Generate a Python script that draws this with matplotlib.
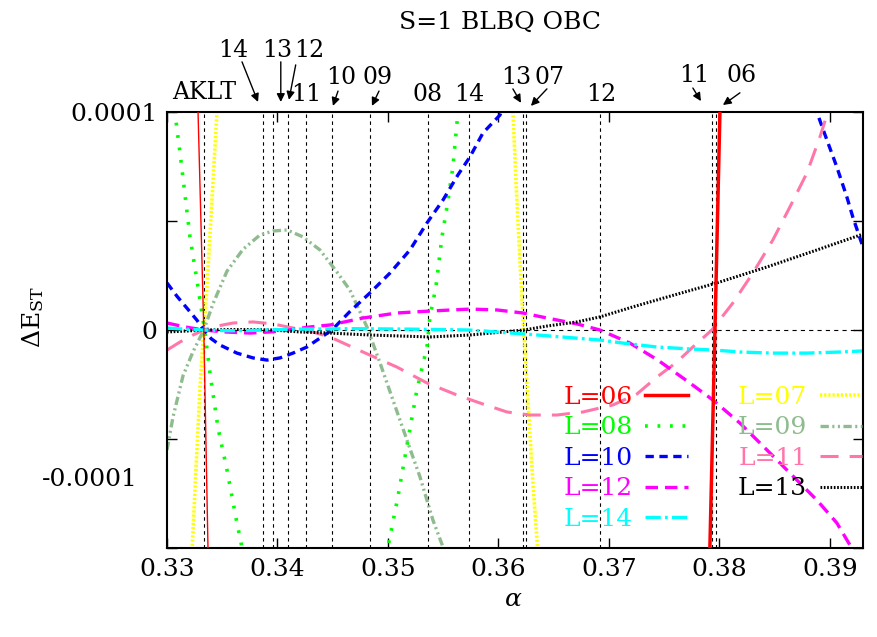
import numpy as np
import matplotlib
matplotlib.use('Agg')
import matplotlib.pyplot as plt

plt.rcParams['font.family'] = 'serif'
plt.rcParams['font.serif'] = ['DejaVu Serif', 'Liberation Serif']
plt.rcParams['mathtext.fontset'] = 'dejavuserif'
plt.rcParams['lines.scale_dashes'] = False

# Delta E_ST (singlet-triplet gap), values in units of 1e-4
a06 = [0.3320, 0.33281, 0.33333, 0.33371, 0.3345, 0.340, 0.350, 0.360,
       0.370, 0.3780, 0.37914, 0.37960, 0.38005, 0.3808]
e06 = [2.9, 1.0, 0.0, -1.0, -2.6, -15, -30, -35, -20, -5.0, -1.0, 0.0, 1.0, 3.5]

a07 = [0.3320, 0.33226, 0.33271, 0.33299, 0.33333, 0.33362, 0.33407, 0.33452,
       0.3352, 0.340, 0.350, 0.358, 0.3608, 0.36131, 0.36167, 0.36213,
       0.36231, 0.36267, 0.36312, 0.36357, 0.3640]
e07 = [-1.2, -1.02, -0.55, -0.26, 0.0, 0.197, 0.596, 0.995, 1.4, 10, 15, 6,
       1.3, 1.0, 0.596, 0.138, -0.014, -0.321, -0.702, -1.02, -1.3]

a08 = [0.3300, 0.33072, 0.33118, 0.33163, 0.33208, 0.33271, 0.33344, 0.33389,
       0.33462, 0.33543, 0.33633, 0.33688, 0.3380, 0.3420, 0.3460, 0.3490,
       0.3500, 0.3509, 0.35181, 0.35262, 0.35353, 0.3538, 0.35434, 0.35489,
       0.35534, 0.35588, 0.35633, 0.3570]
e08 = [1.35, 0.995, 0.812, 0.619, 0.427, 0.229, -0.014, -0.197, -0.45, -0.642,
       -0.885, -1.02, -1.3, -1.9, -1.6, -1.15, -0.995, -0.766, -0.505, -0.275,
       -0.078, 0.06, 0.197, 0.427, 0.564, 0.748, 0.995, 1.3]

a09 = [0.3300, 0.33054, 0.33145, 0.33235, 0.33333, 0.33416, 0.33543, 0.33688,
       0.33842, 0.33959, 0.34086, 0.34231, 0.34385, 0.34538, 0.34656, 0.34810,
       0.34928, 0.35045, 0.35172, 0.35290, 0.35407, 0.35498, 0.3560]
e09 = [-0.55, -0.40, -0.21, -0.10, 0.0, 0.12, 0.27, 0.37, 0.436, 0.454, 0.459,
       0.427, 0.367, 0.266, 0.183, 0.014, -0.151, -0.321, -0.505, -0.674,
       -0.872, -0.995, -1.2]

a10 = [0.3300, 0.3309, 0.33181, 0.33271, 0.33333, 0.33400, 0.3348, 0.33633,
       0.33778, 0.33905, 0.34023, 0.3414, 0.34267, 0.34385, 0.34493, 0.34656,
       0.34837, 0.35018, 0.35199, 0.35353, 0.35498, 0.35633, 0.35742, 0.3586,
       0.36014, 0.3630, 0.370, 0.378, 0.385, 0.38882, 0.38973, 0.39063,
       0.39154, 0.39208, 0.3930]
e10 = [0.216, 0.155, 0.10, 0.045, 0.0, -0.04, -0.069, -0.106, -0.128, -0.138,
       -0.128, -0.106, -0.078, -0.037, 0.0, 0.085, 0.17, 0.261, 0.367, 0.491,
       0.596, 0.711, 0.794, 0.904, 0.986, 1.4, 2.2, 2.4, 1.6, 1.0, 0.872,
       0.748, 0.61, 0.518, 0.38]

a11 = [0.3300, 0.33118, 0.33235, 0.33333, 0.33452, 0.33597, 0.33778, 0.33959,
       0.3414, 0.34258, 0.34475, 0.34774, 0.35081, 0.35353, 0.35624, 0.35833,
       0.36077, 0.36285, 0.36529, 0.36765, 0.37036, 0.37253, 0.37434, 0.37615,
       0.3776, 0.37932, 0.38122, 0.38303, 0.38484, 0.38638, 0.38792, 0.3891,
       0.38982, 0.3905]
e11 = [-0.092, -0.055, -0.023, 0.0, 0.018, 0.032, 0.037, 0.028, 0.009, 0.0,
       -0.032, -0.101, -0.170, -0.243, -0.298, -0.335, -0.376, -0.390, -0.390,
       -0.376, -0.344, -0.294, -0.216, -0.147, -0.078, 0.0, 0.124, 0.261,
       0.413, 0.564, 0.720, 0.885, 1.0, 1.1]

a12 = [0.3300, 0.33163, 0.33333, 0.33525, 0.33751, 0.33932, 0.34095, 0.34294,
       0.34475, 0.34774, 0.35081, 0.3538, 0.35742, 0.35986, 0.36222, 0.36439,
       0.3671, 0.36919, 0.3719, 0.37443, 0.37733, 0.37941, 0.38186, 0.3843,
       0.38638, 0.38882, 0.39063, 0.39208, 0.3930]
e12 = [0.032, 0.014, 0.0, -0.009, -0.014, -0.009, 0.0, 0.014, 0.023, 0.055,
       0.078, 0.087, 0.096, 0.092, 0.078, 0.055, 0.028, 0.0, -0.060, -0.138,
       -0.243, -0.321, -0.427, -0.550, -0.656, -0.780, -0.885, -1.009, -1.07]

a13 = [0.3300, 0.33163, 0.33333, 0.33570, 0.33796, 0.33959, 0.34204, 0.34475,
       0.34837, 0.3538, 0.35742, 0.36041, 0.36231, 0.36439, 0.3671, 0.36919,
       0.37217, 0.37525, 0.37977, 0.3843, 0.38882, 0.3930]
e13 = [-0.009, -0.005, 0.0, 0.002, 0.002, 0.0, -0.009, -0.014, -0.023, -0.032,
       -0.023, -0.009, 0.0, 0.018, 0.037, 0.060, 0.106, 0.151, 0.216, 0.289,
       0.367, 0.440]

a14 = [0.3300, 0.3316, 0.33333, 0.3355, 0.3370, 0.33869, 0.3420, 0.3470,
       0.3520, 0.35733, 0.3623, 0.36919, 0.37127, 0.37434, 0.37733, 0.37959,
       0.38186, 0.38484, 0.38792, 0.3909, 0.3930]
e14 = [0.009, 0.004, 0.0, -0.003, -0.003, 0.0, 0.004, 0.006, 0.004, 0.0,
       -0.018, -0.046, -0.060, -0.078, -0.087, -0.092, -0.101, -0.106, -0.106,
       -0.101, -0.096]

# crossing points (vertical guide lines)
cross = [1/3, 0.33869, 0.33959, 0.34095, 0.34258, 0.34493, 0.34837, 0.35362,
         0.35733, 0.36222, 0.36249, 0.36919, 0.37932, 0.37968]

# labels above the frame: text, x, y(axes frac), arrow from (x, y) to (x, y)
notes = [('AKLT', 0.33335, 1.044, None),
         ('14', 0.33600, 1.142, (0.33679, 1.115, 0.33824, 1.023)),
         ('13', 0.34000, 1.142, (0.34030, 1.115, 0.34030, 1.023)),
         ('12', 0.34290, 1.142, (0.34165, 1.108, 0.34104, 1.028)),
         ('11', 0.34258, 1.039, None),
         ('10', 0.34575, 1.080, (0.34548, 1.048, 0.34502, 1.014)),
         ('09', 0.34910, 1.080, (0.34919, 1.048, 0.34855, 1.014)),
         ('08', 0.35362, 1.039, None),
         ('14', 0.35733, 1.039, None),
         ('13', 0.36158, 1.080, (0.36131, 1.053, 0.36204, 1.021)),
         ('07', 0.36466, 1.080, (0.36439, 1.053, 0.36294, 1.014)),
         ('12', 0.36928, 1.039, None),
         ('11', 0.37769, 1.083, (0.37760, 1.055, 0.37833, 1.025)),
         ('06', 0.38204, 1.083, (0.38186, 1.044, 0.38032, 1.016))]

fs = 18
fig = plt.figure(figsize=(8.77, 6.37), dpi=100)
ax = fig.add_axes([167/877, 1-548/637, (863-167)/877, (548-112)/637])

for c in cross:
    ax.axvline(c, color='k', lw=0.8, dashes=(2.5, 2.5), zorder=1)
ax.axhline(0, color='k', lw=0.8, dashes=(3, 3), zorder=1)

s = 1e-4
a06 = np.array(a06)
e06 = np.array(e06)
left = a06 < 0.36
ax.plot(a06[left], e06[left]*s, color='#ff0000', lw=1.0, zorder=3)
l06, = ax.plot(a06[~left], e06[~left]*s, color='#ff0000', lw=2.5, label='L=06', zorder=3)
l07, = ax.plot(a07, np.array(e07)*s, color='#ffff00', lw=2.6, dashes=(1.6, 1.4), label='L=07')
l08, = ax.plot(a08, np.array(e08)*s, color='#00ff00', lw=2.6, dashes=(2.0, 7.0), label='L=08')
l09, = ax.plot(a09, np.array(e09)*s, color='#8fbc8f', lw=2.4,
               dashes=(6, 2.5, 1.5, 2.5, 1.5, 2.5), label='L=09')
l10, = ax.plot(a10, np.array(e10)*s, color='#0000ff', lw=2.4, dashes=(6, 4), label='L=10')
l11, = ax.plot(a11, np.array(e11)*s, color='#ff77aa', lw=2.2, dashes=(13, 8), label='L=11')
l12, = ax.plot(a12, np.array(e12)*s, color='#ff00ff', lw=2.4, dashes=(9, 5), label='L=12')
l13, = ax.plot(a13, np.array(e13)*s, color='#000000', lw=2.2, dashes=(1.2, 1.2), label='L=13')
l14, = ax.plot(a14, np.array(e14)*s, color='#00ffff', lw=2.4, dashes=(11, 3, 2, 3), label='L=14')

ax.set_xlim(0.33, 0.393)
ax.set_ylim(-1e-4, 1e-4)
ax.set_xticks([0.33, 0.34, 0.35, 0.36, 0.37, 0.38, 0.39])
ax.set_xticklabels(['0.33', '0.34', '0.35', '0.36', '0.37', '0.38', '0.39'])
ax.set_yticks([-1e-4, -5e-5, 0, 5e-5, 1e-4])
ax.set_yticklabels(['', '', '0', '', '0.0001'])
ax.tick_params(direction='in', top=True, right=True, length=7, width=1,
               labelsize=fs, pad=7)
for sp in ax.spines.values():
    sp.set_linewidth(1.5)
ax.text(-0.042, -0.688e-4, '-0.0001', transform=ax.get_yaxis_transform(),
        ha='right', va='center', fontsize=fs)

tr = ax.get_xaxis_transform()
for txt, x, y, arr in notes:
    ax.text(x, y, txt, transform=tr, ha='center', va='center', fontsize=17)
    if arr is not None:
        ax.annotate('', xy=(arr[2], arr[3]), xycoords=tr,
                    xytext=(arr[0], arr[1]), textcoords=tr,
                    arrowprops=dict(arrowstyle='-|>', color='k', lw=1,
                                    mutation_scale=12, shrinkA=0, shrinkB=0))

handles = [l06, l08, l10, l12, l14, l07, l09, l11, l13]
ax.legend(handles=handles, ncol=2, loc='upper left', bbox_to_anchor=(0.57, 0.372),
          frameon=False, fontsize=fs, markerfirst=False, labelcolor='linecolor',
          handlelength=1.7, handletextpad=0.5, columnspacing=2.0,
          labelspacing=0.3, borderpad=0, borderaxespad=0)

fig.text(500/877, 1-22/637, 'S=1 BLBQ OBC', ha='center', va='center', fontsize=fs)
fig.text(513/877, 1-600/637, r'$\alpha$', ha='center', va='center', fontsize=fs)
fig.text(33/877, 1-317/637, r'$\Delta$E$_{\rm ST}$', ha='center', va='center',
         rotation=90, fontsize=fs)

fig.savefig('out.png', dpi=100)
